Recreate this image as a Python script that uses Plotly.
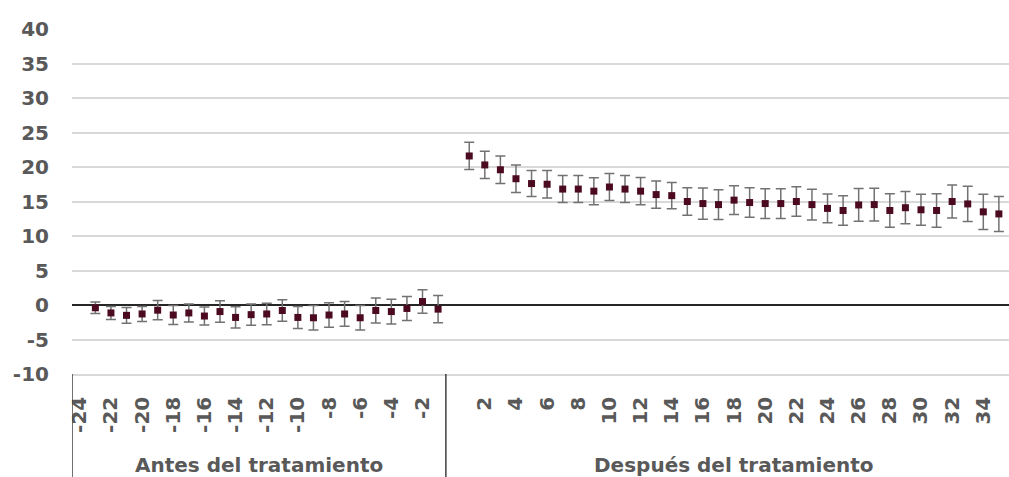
import plotly.graph_objects as go

# Event-study estimates: periods relative to treatment
pre_periods = [-24, -23, -22, -21, -20, -19, -18, -17, -16, -15, -14, -13,
               -12, -11, -10, -9, -8, -7, -6, -5, -4, -3, -2, -1]
pre_coef = [None, -0.4, -1.15, -1.5, -1.3, -0.75, -1.45, -1.15, -1.6, -0.95, -1.8, -1.4,
            -1.3, -0.8, -1.8, -1.85, -1.45, -1.3, -1.85, -0.8, -0.95, -0.5, 0.5, -0.6]
pre_ci = [None, 0.82, 0.94, 1.14, 1.09, 1.4, 1.38, 1.3, 1.3, 1.55, 1.55, 1.55,
          1.57, 1.55, 1.6, 1.76, 1.76, 1.79, 1.79, 1.81, 1.79, 1.74, 1.71, 1.96]

post_periods = [0, 1, 2, 3, 4, 5, 6, 7, 8, 9, 10, 11, 12, 13, 14, 15, 16, 17, 18,
                19, 20, 21, 22, 23, 24, 25, 26, 27, 28, 29, 30, 31, 32, 33, 34, 35, 36]
post_coef = [None, 21.6, 20.3, 19.6, 18.3, 17.6, 17.5, 16.8, 16.8, 16.5, 17.1, 16.8,
             16.5, 16.0, 15.85, 15.0, 14.7, 14.55, 15.2, 14.85, 14.7, 14.7, 15.0, 14.55,
             14.0, 13.7, 14.5, 14.55, 13.7, 14.1, 13.8, 13.7, 15.0, 14.65, 13.5, 13.2, None]
post_ci = [None, 1.98, 1.98, 1.98, 1.98, 1.88, 1.98, 1.96, 1.96, 1.96, 1.96, 1.96,
           1.98, 1.98, 1.91, 1.98, 2.27, 2.15, 2.1, 2.15, 2.15, 2.15, 2.13, 2.22,
           2.08, 2.13, 2.37, 2.37, 2.42, 2.34, 2.25, 2.42, 2.39, 2.56, 2.54, 2.54, None]

group_names = ["Antes del tratamiento", "Después del tratamiento"]

y_ticks = [-10, -5, 0, 5, 10, 15, 20, 25, 30, 35, 40]

periods = pre_periods + post_periods
coef = pre_coef + post_coef
ci = pre_ci + post_ci
pos = list(range(len(periods)))
n_pre = len(pre_periods)

tick_pos = [i for i, p in enumerate(periods) if p % 2 == 0 and p != 0]
tick_text = [str(periods[i]) for i in tick_pos]
y_text = [str(v) for v in y_ticks]

TEXT = "#595959"
FONT = "DejaVu Sans"

fig = go.Figure()
fig.add_trace(go.Scatter(
    x=pos, y=coef, mode="markers",
    marker=dict(symbol="square", size=7, color="#4b0a1f", line=dict(width=0)),
    error_y=dict(type="data", array=ci, visible=True, color="#727272",
                 thickness=1.5, width=5),
    showlegend=False, hoverinfo="skip",
))

# group separators below the category axis
for xb in [-0.5, n_pre - 0.5]:
    fig.add_shape(type="line", xref="x", yref="paper", x0=xb, x1=xb,
                  y0=0, y1=-0.31, line=dict(color="#404040", width=1.5))

group_centers = [(n_pre - 1) / 2, (n_pre + len(periods) - 1) / 2]
for name, xc in zip(group_names, group_centers):
    fig.add_annotation(x=xc, xref="x", y=-0.264, yref="paper", text=name,
                       showarrow=False, yanchor="middle", xanchor="center",
                       font=dict(family=FONT, size=20, color=TEXT, weight="bold"))

fig.update_layout(
    width=1009, height=477,
    margin=dict(l=72, r=0, t=29, b=103),
    paper_bgcolor="white", plot_bgcolor="white",
    xaxis=dict(range=[-0.5, 59.65], tickmode="array", tickvals=tick_pos,
               ticktext=tick_text, tickangle=-90, showgrid=False, zeroline=False,
               showline=True, linecolor="#d9d9d9", linewidth=1.5,
               ticks="", ticklabelstandoff=13,
               tickfont=dict(family=FONT, size=20, color=TEXT, weight="bold")),
    yaxis=dict(range=[-10, 40], tickmode="array", tickvals=y_ticks, ticktext=y_text,
               showgrid=True, gridcolor="#d9d9d9", gridwidth=1.5,
               zeroline=True, zerolinecolor="#262626", zerolinewidth=2,
               showline=False, ticks="", ticklabelstandoff=22,
               tickfont=dict(family=FONT, size=20, color=TEXT, weight="bold")),
)

fig.write_html("out.html")
